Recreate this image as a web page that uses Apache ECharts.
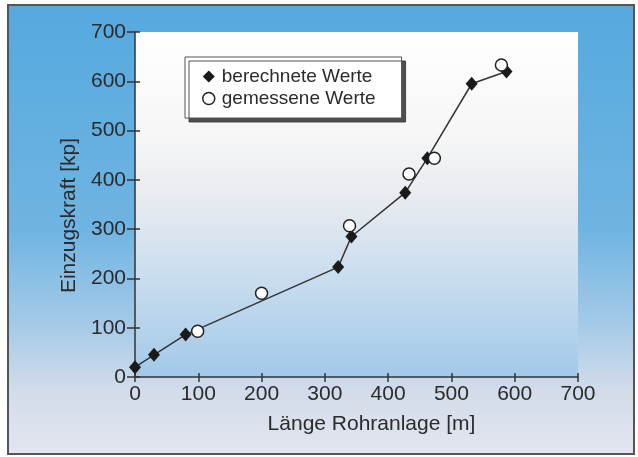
<!DOCTYPE html>
<html>
<head>
<meta charset="utf-8">
<script src="https://cdn.jsdelivr.net/npm/echarts@6/dist/echarts.min.js"></script>
<style>
html,body{margin:0;padding:0;background:#ffffff;}
#c{width:638px;height:457px;}
</style>
</head>
<body>
<div id="c"></div>
<script>
// ---- data ----
const calcX = [0, 30, 80, 321, 342, 427, 462, 532, 587];
const calcY = [20, 45, 86, 223, 285, 374, 444, 595, 620];
const measX = [99, 200, 339, 433, 473, 579];
const measY = [93, 170, 307, 412, 444, 633];
const xTicks = [0, 100, 200, 300, 400, 500, 600, 700];
const yTicks = [0, 100, 200, 300, 400, 500, 600, 700];
const seriesNames = ['berechnete Werte', 'gemessene Werte'];
const xTitle = 'Länge Rohranlage [m]';
const yTitle = 'Einzugskraft [kp]';

const FONT = "'Liberation Sans', Arial, Helvetica, sans-serif";
const TXT = '#2b2b2b';
const AX = '#333333';

const calcData = calcX.map((x, i) => [x, calcY[i]]);
const measData = measX.map((x, i) => [x, measY[i]]);

const chart = echarts.init(document.getElementById('c'), null, {renderer: 'canvas'});

function axisBase(isX, main) {
  const ticks = isX ? xTicks : yTicks;
  return {
    type: 'value',
    min: ticks[0],
    max: ticks[ticks.length - 1],
    interval: ticks[1] - ticks[0],
    position: isX ? 'bottom' : 'left',
    splitLine: {show: false},
    axisLine: {show: main, lineStyle: {color: AX, width: 1.5}},
    axisTick: main
      ? {show: true, inside: false, length: isX ? 5 : 8, lineStyle: {color: AX, width: 1.5}}
      : {show: true, inside: true, length: isX ? 4 : 5, lineStyle: {color: AX, width: 1.5}},
    axisLabel: {show: main, color: TXT, fontSize: 21, fontFamily: FONT, margin: isX ? 7 : 9}
  };
}

const option = {
  animation: false,
  backgroundColor: 'transparent',
  graphic: [{
    type: 'rect',
    z: -100,
    shape: {x: 8, y: 5, width: 626, height: 449},
    style: {
      fill: {type: 'linear', x: 0, y: 0, x2: 0, y2: 1, colorStops: [
        {offset: 0, color: '#55a9de'},
        {offset: 0.5, color: '#6fb4e2'},
        {offset: 0.72, color: '#a8cbe8'},
        {offset: 0.86, color: '#d3dcea'},
        {offset: 1, color: '#e3e5ee'}
      ]},
      stroke: '#555555',
      lineWidth: 2
    }
  }],
  grid: {
    left: 135, right: 60, top: 32, bottom: 80,
    show: true,
    borderWidth: 0,
    backgroundColor: {type: 'linear', x: 0, y: 0, x2: 0, y2: 1, colorStops: [
      {offset: 0, color: '#ffffff'},
      {offset: 0.3, color: '#f6f6f6'},
      {offset: 0.5, color: '#e6eaf0'},
      {offset: 0.72, color: '#c8dcee'},
      {offset: 1, color: '#a2c9e8'}
    ]}
  },
  xAxis: [
    Object.assign(axisBase(true, true), {
      name: xTitle, nameLocation: 'middle', nameGap: 37,
      nameTextStyle: {color: TXT, fontSize: 21, fontFamily: FONT, padding: [0, 0, 0, 30]}
    }),
    axisBase(true, false)
  ],
  yAxis: [
    Object.assign(axisBase(false, true), {
      name: yTitle, nameLocation: 'middle', nameGap: 48,
      nameTextStyle: {color: TXT, fontSize: 21, fontFamily: FONT, padding: [0, 22, 0, 0]}
    }),
    axisBase(false, false)
  ],
  legend: {
    orient: 'vertical',
    left: 185, top: 57,
    padding: [10, 26, 10, 17],
    itemGap: 3,
    itemWidth: 12, itemHeight: 12,
    backgroundColor: '#ffffff',
    borderColor: '#555555', borderWidth: 1,
    shadowColor: 'rgba(60,60,60,0.9)', shadowBlur: 0, shadowOffsetX: 4, shadowOffsetY: 4,
    textStyle: {color: TXT, fontSize: 19, fontFamily: FONT, padding: [0, 0, 0, 2]},
    data: [
      {name: seriesNames[0], icon: 'diamond', itemStyle: {color: '#1a1a1a', borderWidth: 0}},
      {name: seriesNames[1], icon: 'circle', itemStyle: {color: '#ffffff', borderColor: '#222222', borderWidth: 1.5}}
    ]
  },
  series: [
    {
      name: seriesNames[0],
      type: 'line',
      xAxisIndex: 0, yAxisIndex: 0,
      data: calcData,
      symbol: 'diamond',
      symbolSize: [12, 14],
      showAllSymbol: true,
      lineStyle: {color: '#333333', width: 1.5},
      itemStyle: {color: '#1a1a1a', borderWidth: 0},
      z: 3
    },
    {
      name: seriesNames[1],
      type: 'scatter',
      xAxisIndex: 0, yAxisIndex: 0,
      data: measData,
      symbol: 'circle',
      symbolSize: 12,
      itemStyle: {color: '#ffffff', borderColor: '#222222', borderWidth: 1.5, opacity: 1},
      z: 4
    }
  ]
};
chart.setOption(option);
</script>
</body>
</html>
